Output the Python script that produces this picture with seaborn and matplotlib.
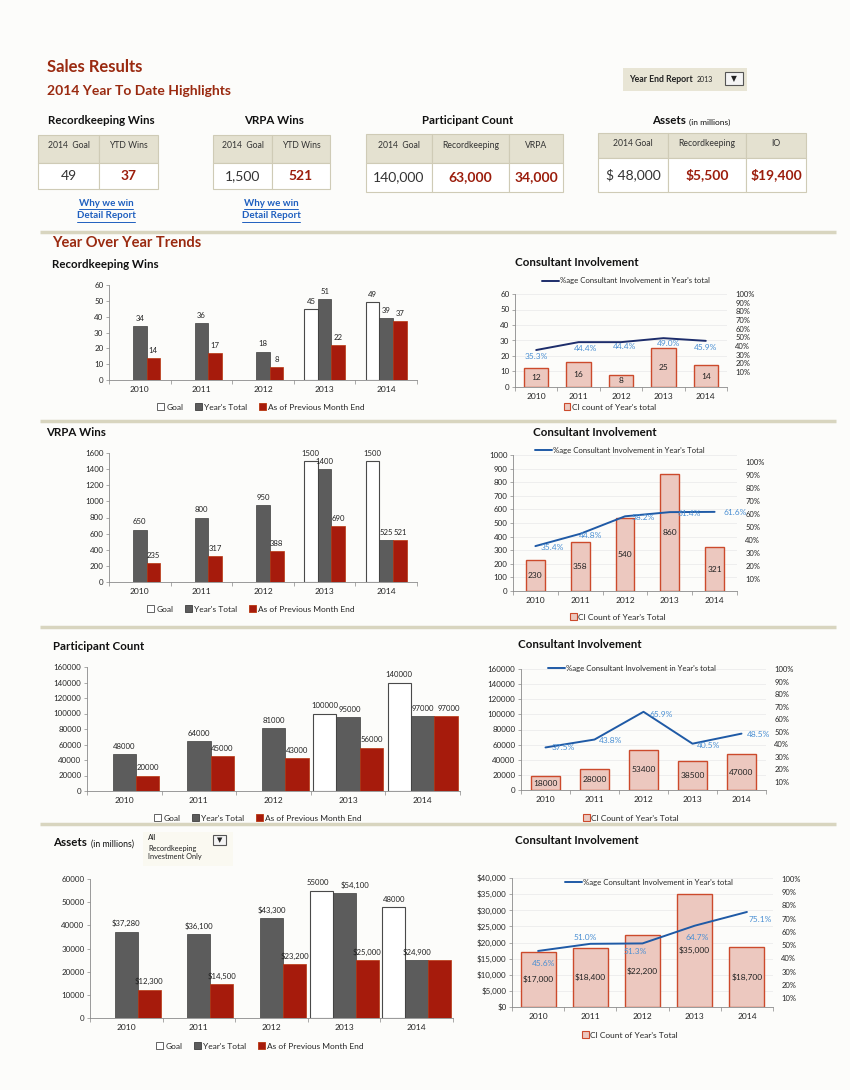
import numpy as np
import pandas as pd
import matplotlib
matplotlib.use('Agg')
import matplotlib.pyplot as plt
import seaborn as sns
from matplotlib.patches import Rectangle, Patch
from matplotlib.lines import Line2D

# ---- data ----
years = ['2010', '2011', '2012', '2013', '2014']
series_names = ['Goal', "Year's Total", 'As of Previous Month End']

rk_goal = [np.nan, np.nan, np.nan, 45, 49]
rk_total = [34, 36, 18, 51, 39]
rk_prev = [14, 17, 8, 22, 37]
rk_ci = [12, 16, 8, 25, 14]
rk_pct = [35.3, 44.4, 44.4, 49.0, 45.9]

vrpa_goal = [np.nan, np.nan, np.nan, 1500, 1500]
vrpa_total = [650, 800, 950, 1400, 525]
vrpa_prev = [235, 317, 388, 690, 521]
vrpa_ci = [230, 358, 540, 860, 321]
vrpa_pct = [35.4, 44.8, 58.2, 61.4, 61.6]

part_goal = [np.nan, np.nan, np.nan, 100000, 140000]
part_total = [48000, 64000, 81000, 95000, 97000]
part_prev = [20000, 45000, 43000, 56000, 97000]
part_ci = [18000, 28000, 53400, 38500, 47000]
part_pct = [37.5, 43.8, 65.9, 40.5, 48.5]

asset_goal = [np.nan, np.nan, np.nan, 55000, 48000]
asset_total = [37280, 36100, 43300, 54100, 24900]
asset_prev = [12300, 14500, 23200, 25000, 24900]
asset_ci = [17000, 18400, 22200, 35000, 18700]
asset_pct = [45.6, 51.0, 51.3, 64.7, 75.1]

kpi_titles = ['Recordkeeping Wins', 'VRPA Wins', 'Participant Count', 'Assets']
kpi_headers = [['2014  Goal', 'YTD Wins'], ['2014  Goal', 'YTD Wins'],
               ['2014  Goal', 'Recordkeeping', 'VRPA'], ['2014 Goal', 'Recordkeeping', 'IO']]
kpi_values = [['49', '37'], ['1,500', '521'],
              ['140,000', '63,000', '34,000'], ['$ 48,000', '$5,500', '$19,400']]

# ---- styles ----
DARK_RED = '#9a2a10'
VAL_RED = '#9b1d0c'
bar_colors = ['#ffffff', '#5c5c5c', '#a61b0c']
bar_edges = ['#4a4a4a', '#3e3e3e', '#b8360f']
CI_FILL = '#ecc8bf'
CI_EDGE = '#cc4a2c'
PCT_BLUE = '#4a8fd3'
LINK = '#1f5fbf'
SEP = '#d8d5bf'
TICK_FS = 5.8
LAB_FS = 5.6

sns.set_theme(style='ticks')
plt.rcParams['font.family'] = ['Lato', 'DejaVu Sans']
plt.rcParams['axes.edgecolor'] = '#8a8a8a'
plt.rcParams['axes.linewidth'] = 0.6

W, H = 850, 1090
fig = plt.figure(figsize=(W / 100, H / 100), dpi=100, facecolor='#fcfcfa')
bg = fig.add_axes([0, 0, 1, 1])
bg.set_xlim(0, W)
bg.set_ylim(H, 0)
bg.axis('off')


def box(x0, y0, x1, y1):
    return [x0 / W, 1 - y1 / H, (x1 - x0) / W, (y1 - y0) / H]


#%% header
bg.text(47, 67, 'Sales Results', fontsize=12, fontweight='bold', color=DARK_RED, va='center')
bg.text(47, 91, '2014 Year To Date Highlights', fontsize=10, fontweight='bold', color=DARK_RED, va='center')

bg.add_patch(Rectangle((623, 68), 124, 23, facecolor='#e8e5d5', edgecolor='none'))
bg.text(629, 80, 'Year End Report', fontsize=6.3, fontweight='bold', color='#222', va='center')
bg.text(697, 79, '2013', fontsize=5, color='#222', va='center')
bg.add_patch(Rectangle((725, 72), 18, 13, facecolor='#f4f4f4', edgecolor='#555', lw=0.8))
bg.text(734, 78.5, '▼', fontsize=5.5, ha='center', va='center', color='#222', family='DejaVu Sans')

#%% KPI tables
table_cols = [[38, 99, 158], [213, 272, 330], [366, 432, 509, 563], [598, 668, 746, 806]]
table_rows = [[135, 163, 189], [135, 163, 189], [134, 163, 192], [133, 158, 192]]
table_title_x = [101, 274, 468, 694]

for t, (title, heads, vals) in enumerate(zip(kpi_titles, kpi_headers, kpi_values)):
    cols, rows = table_cols[t], table_rows[t]
    if title == 'Assets':
        bg.text(686, 121, 'Assets', fontsize=8.3, fontweight='bold', ha='right', va='center', color='#111')
        bg.text(689, 122, '(in millions)', fontsize=6, ha='left', va='center', color='#111')
    else:
        bg.text(table_title_x[t], 121, title, fontsize=8.3, fontweight='bold', ha='center', va='center', color='#111')
    for j in range(len(heads)):
        x0, x1 = cols[j], cols[j + 1]
        bg.add_patch(Rectangle((x0, rows[0]), x1 - x0, rows[1] - rows[0],
                               facecolor='#e4e1d0', edgecolor='#cfcbb6', lw=0.8))
        bg.add_patch(Rectangle((x0, rows[1]), x1 - x0, rows[2] - rows[1],
                               facecolor='#ffffff', edgecolor='#cfcbb6', lw=0.8))
        bg.text((x0 + x1) / 2, rows[0] + 11, heads[j], fontsize=6.2, ha='center', va='center', color='#333')
        if j == 0:
            bg.text((x0 + x1) / 2, (rows[1] + rows[2]) / 2, vals[j], fontsize=10,
                    ha='center', va='center', color='#333')
        else:
            bg.text((x0 + x1) / 2, (rows[1] + rows[2]) / 2, vals[j], fontsize=10, fontweight='bold',
                    ha='center', va='center', color=VAL_RED)

renderer = fig.canvas.get_renderer()
for cx in [106, 271]:
    for y, s in [(203, 'Why we win'), (216, 'Detail Report')]:
        tx = bg.text(cx, y, s, fontsize=7, fontweight='bold', ha='center', va='center', color=LINK)
        bb = tx.get_window_extent(renderer)
        x0 = bb.x0 / fig.dpi * 100
        x1 = bb.x1 / fig.dpi * 100
        bg.plot([x0, x1], [y + 5.5, y + 5.5], color=LINK, lw=0.7)

#%% separators and section titles
for y in [232, 421, 627, 824]:
    bg.plot([40, 836], [y, y], color=SEP, lw=2.5, solid_capstyle='butt')
bg.text(52, 243, 'Year Over Year Trends', fontsize=10.5, fontweight='bold', color=DARK_RED, va='center')

for x, y, s in [(52, 264, 'Recordkeeping Wins'), (515, 263, 'Consultant Involvement'),
                (46, 433, 'VRPA Wins'), (533, 432, 'Consultant Involvement'),
                (53, 646, 'Participant Count'), (518, 645, 'Consultant Involvement'),
                (515, 841, 'Consultant Involvement')]:
    bg.text(x, y, s, fontsize=8.3, fontweight='bold', color='#111', va='center')
bg.text(53, 843, 'Assets', fontsize=8.3, fontweight='bold', color='#111', va='center')
bg.text(91, 844, '(in millions)', fontsize=6.3, color='#111', va='center')

# assets selector
bg.add_patch(Rectangle((143, 832), 90, 34, facecolor='#faf9f1', edgecolor='none'))
for y, s in [(838, 'All'), (848, 'Recordkeeping'), (857, 'Investment Only')]:
    bg.text(148, y, s, fontsize=5.3, color='#222', va='center')
bg.add_patch(Rectangle((213, 835), 13, 10, facecolor='#f4f4f4', edgecolor='#555', lw=0.8))
bg.text(219.5, 840, '▼', fontsize=5, ha='center', va='center', color='#222', family='DejaVu Sans')


def style_axis(ax, ylim, step, yfmt):
    ax.set_xlabel('')
    ax.set_ylabel('')
    ax.set_facecolor('none')
    ax.set_ylim(ylim)
    ticks = np.arange(0, ylim[1] + 1, step)
    ax.set_yticks(ticks)
    ax.set_yticklabels([yfmt(t) for t in ticks])
    ax.set_xlim(-0.5, len(years) - 0.5)
    ax.tick_params(axis='y', labelsize=TICK_FS, length=2, width=0.5, color='#888', pad=2)
    ax.tick_params(axis='x', which='major', labelsize=TICK_FS + 0.3, length=0, pad=4)
    ax.set_xticks(np.arange(-0.5, len(years)), minor=True)
    ax.tick_params(axis='x', which='minor', length=3, width=0.5, color='#888')
    sns.despine(ax=ax)


def trend_bars(rect, goal, total, prev, width, ylim, step, fmts, hidden, nudges, legend_xy):
    ax = fig.add_axes(box(*rect))
    df = pd.DataFrame({'year': np.tile(years, 3),
                       'series': np.repeat(series_names, len(years)),
                       'value': np.concatenate([goal, total, prev])})
    sns.barplot(data=df, x='year', y='value', hue='series', hue_order=series_names,
                palette=bar_colors, width=width, saturation=1, gap=0, legend=False,
                errorbar=None, ax=ax)
    for k, c in enumerate(ax.containers):
        for p in c.patches:
            p.set_edgecolor(bar_edges[k])
            p.set_linewidth(0.8 if k == 0 else 0.5)
            h = p.get_height()
            xc = p.get_x() + p.get_width() / 2
            i = int(round(xc))
            if not np.isfinite(h) or (k, i) in hidden:
                continue
            dx = nudges.get((k, i), 0)
            ax.annotate(fmts[k](h), (xc, h), xytext=(dx, 3), textcoords='offset points',
                        ha='center', va='bottom', fontsize=LAB_FS, color='#222')
    style_axis(ax, ylim, step, lambda t: f'{t:.0f}')
    handles = [Patch(facecolor=c, edgecolor=e, lw=0.6) for c, e in zip(bar_colors, bar_edges)]
    ax.legend(handles, series_names, loc='center', bbox_to_anchor=legend_xy,
              bbox_transform=bg.transData, ncol=3, frameon=False, fontsize=6,
              handlelength=0.8, handleheight=0.8, handletextpad=0.3, columnspacing=1.4,
              borderaxespad=0, borderpad=0)
    return ax


def consultant(rect, ci, pct, width, ylim, step, yfmt, ci_fmt, r_ylim, line_color,
               pct_offsets, top_leg, top_label, bot_leg, bot_label):
    ax = fig.add_axes(box(*rect))
    sns.barplot(x=years, y=ci, color=CI_FILL, edgecolor=CI_EDGE, linewidth=1.0,
                width=width, saturation=1, errorbar=None, ax=ax)
    ax.bar_label(ax.containers[0], labels=[ci_fmt(v) for v in ci], label_type='center',
                 fontsize=6, color='#222')
    style_axis(ax, ylim, step, yfmt)
    ax.yaxis.grid(True, color='#e9e9e9', lw=0.5)
    ax.set_axisbelow(True)

    ax2 = ax.twinx()
    xs = np.arange(len(years))
    vals = np.array(pct) / 100
    sns.lineplot(x=xs, y=vals, ax=ax2, color=line_color, linewidth=1.4)
    ax2.set_ylim(r_ylim)
    rt = np.round(np.arange(0.1, 1.01, 0.1), 1)
    ax2.set_yticks(rt)
    ax2.set_yticklabels([f'{int(round(t * 100))}%' for t in rt])
    ax2.tick_params(axis='y', length=0, labelsize=TICK_FS - 0.3, pad=6)
    ax2.set_ylabel('')
    for s in ax2.spines.values():
        s.set_visible(False)
    ax2.set_xlim(-0.5, len(years) - 0.5)
    for x, v, vp, off in zip(xs, vals, pct, pct_offsets):
        ax2.annotate(f'{vp:.1f}%', (x, v), xytext=off, textcoords='offset pixels',
                     ha='center', va='center', fontsize=6, color=PCT_BLUE)
    ax2.legend([Line2D([], [], color=line_color, lw=1.4)], [top_label], loc='center',
               bbox_to_anchor=top_leg, bbox_transform=bg.transData, frameon=False,
               fontsize=5.6, handlelength=2.2, handletextpad=0.1, borderaxespad=0, borderpad=0)
    ax.legend([Patch(facecolor=CI_FILL, edgecolor=CI_EDGE, lw=0.8)], [bot_label], loc='center',
              bbox_to_anchor=bot_leg, bbox_transform=bg.transData, frameon=False,
              fontsize=6, handlelength=0.8, handleheight=0.8, handletextpad=0.2,
              borderaxespad=0, borderpad=0)
    return ax


plain = lambda v: f'{v:.0f}'
dollar = lambda v: f'${v:,.0f}'

#%% Recordkeeping row
trend_bars((109, 285, 417, 380), rk_goal, rk_total, rk_prev, 0.66, (0, 60), 10,
           [plain, plain, plain], [], {}, (261, 407))
consultant((515, 294, 727, 387), rk_ci, rk_pct, 0.58, (0, 60), 10, plain, plain,
           (-0.074, 1.0), '#1d2d6b',
           [(0, -6), (7, -6), (4, -4), (5, -5), (0, -7)],
           (626, 281), "%age Consultant Involvement in Year's total",
           (610, 407), "CI count of Year's total")

#%% VRPA row
trend_bars((109, 453, 417, 582), vrpa_goal, vrpa_total, vrpa_prev, 0.67, (0, 1600), 200,
           [plain, plain, plain], [], {}, (251, 609))
consultant((513, 455, 737, 591), vrpa_ci, vrpa_pct, 0.42, (0, 1000), 100, plain, plain,
           (0.0106, 1.051), '#1f5aa6',
           [(17, -1), (10, -2), (18, -1), (19, -1), (21, -1)],
           (620, 450), "%age Consultant Involvement in Year's Total",
           (618, 617), "CI Count of Year's Total")

#%% Participant row
trend_bars((87, 667, 460, 791), part_goal, part_total, part_prev, 0.94, (0, 160000), 20000,
           [plain, plain, plain], [], {(1, 3): 1, (2, 4): 2}, (258, 818))
consultant((521, 669, 766, 790), part_ci, part_pct, 0.61, (0, 160000), 20000, plain, plain,
           (0.036, 1.0), '#1f5aa6',
           [(18, 0), (16, -1), (18, -3), (16, -2), (17, -1)],
           (632, 668), "%age Consultant Involvement in Year's total",
           (631, 818), "CI Count of Year's Total")

#%% Assets row
trend_bars((90, 879, 453, 1018), asset_goal, asset_total, asset_prev, 0.95, (0, 60000), 10000,
           [plain, dollar, dollar], [(2, 4)], {(0, 3): -2, (1, 3): 8}, (260, 1046))
consultant((512, 878, 773, 1007), asset_ci, asset_pct, 0.67, (0, 40000), 5000, dollar, dollar,
           (0.032, 1.008), '#1f5aa6',
           [(5, -13), (-5, 6), (-7, -8), (2, -12), (13, -8)],
           (649, 882), "%age Consultant Involvement in Year's total",
           (630, 1035), "CI Count of Year's Total")

fig.savefig('out.png', dpi=100, facecolor=fig.get_facecolor())
